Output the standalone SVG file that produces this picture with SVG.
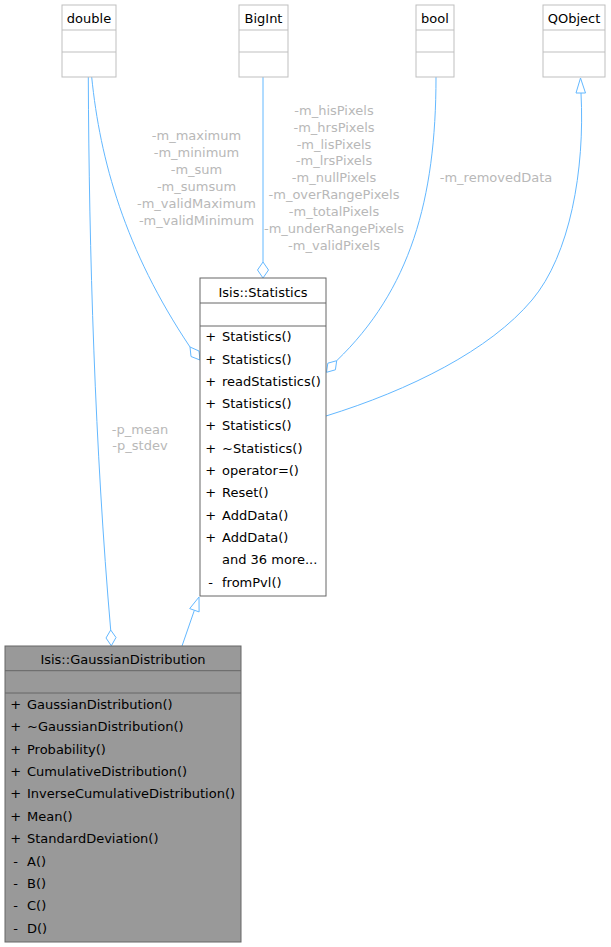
<svg xmlns="http://www.w3.org/2000/svg" width="611" height="947" viewBox="0 0 611 947">
<style>
text{font-family:"DejaVu Sans",sans-serif;font-size:13px;fill:#000}
.c{text-anchor:middle}
.lbl{fill:#b8b8b8;text-anchor:middle}
.ext rect,.ext line{stroke:#bfbfbf;fill:#fff;stroke-width:1}
.cls rect,.cls line{stroke:#666;stroke-width:1}
.edge{fill:none;stroke:#63b8ff;stroke-width:1}
.head{fill:#fff;stroke:#63b8ff;stroke-width:1}
</style>
<rect width="611" height="947" fill="#fff"/>
<g id="connectors">
  <path class="edge" d="M91.7,77 C100,160 125,250 190,347"/>
  <polygon class="head" points="190,347 199,351 200,360 191,356.5"/>
  <path class="edge" d="M88.3,77 C89,250 95,450 110.7,630"/>
  <polygon class="head" points="110.7,630 116,637.5 111.3,645.8 106,638"/>
  <path class="edge" d="M263,77 L263,262"/>
  <polygon class="head" points="263,262 268.5,270 263,278 257.5,270"/>
  <path class="edge" d="M436,77 C436,200 410,290 336.7,360.7"/>
  <polygon class="head" points="336.7,360.7 335.4,369.8 326.5,372.3 327.8,363.2"/>
  <path class="edge" d="M326,416 C410,390 490,350 532,300 C570,255 585,170 581,93"/>
  <polygon class="head" points="580.5,78 585.5,93 576,93"/>
  <path class="edge" d="M182,646 L194.4,610.2"/>
  <polygon class="head" points="199,597 199.1,611.9 189.7,608.6"/>
  <text class="lbl" x="196.5" y="140">-m_maximum</text>
  <text class="lbl" x="196.5" y="157">-m_minimum</text>
  <text class="lbl" x="196.5" y="174">-m_sum</text>
  <text class="lbl" x="196.5" y="191">-m_sumsum</text>
  <text class="lbl" x="196.5" y="208">-m_validMaximum</text>
  <text class="lbl" x="196.5" y="224.5">-m_validMinimum</text>
  <text class="lbl" x="334" y="114.5">-m_hisPixels</text>
  <text class="lbl" x="334" y="131.5">-m_hrsPixels</text>
  <text class="lbl" x="334" y="148.5">-m_lisPixels</text>
  <text class="lbl" x="334" y="165">-m_lrsPixels</text>
  <text class="lbl" x="334" y="182">-m_nullPixels</text>
  <text class="lbl" x="334" y="199">-m_overRangePixels</text>
  <text class="lbl" x="334" y="216">-m_totalPixels</text>
  <text class="lbl" x="334" y="233">-m_underRangePixels</text>
  <text class="lbl" x="334" y="250">-m_validPixels</text>
  <text class="lbl" x="496" y="182">-m_removedData</text>
  <text class="lbl" x="140" y="433.5">-p_mean</text>
  <text class="lbl" x="140" y="450">-p_stdev</text>
</g>
<g id="node-double" class="ext">
  <rect x="62" y="5" width="54" height="72"/>
  <line x1="62" y1="30" x2="116" y2="30"/>
  <line x1="62" y1="52" x2="116" y2="52"/>
  <text class="c" x="89" y="22.8">double</text>
</g>
<g id="node-bigint" class="ext">
  <rect x="239" y="5" width="49" height="72"/>
  <line x1="239" y1="30" x2="288" y2="30"/>
  <line x1="239" y1="52" x2="288" y2="52"/>
  <text class="c" x="263.5" y="22.8">BigInt</text>
</g>
<g id="node-bool" class="ext">
  <rect x="416" y="5" width="38" height="72"/>
  <line x1="416" y1="30" x2="454" y2="30"/>
  <line x1="416" y1="52" x2="454" y2="52"/>
  <text class="c" x="435" y="22.8">bool</text>
</g>
<g id="node-qobject" class="ext">
  <rect x="543" y="5" width="62" height="72"/>
  <line x1="543" y1="30" x2="605" y2="30"/>
  <line x1="543" y1="52" x2="605" y2="52"/>
  <text class="c" x="574" y="22.8">QObject</text>
</g>
<g id="node-statistics" class="cls">
  <rect x="200" y="278" width="126" height="318" fill="#fff"/>
  <line x1="200" y1="303" x2="326" y2="303"/>
  <line x1="200" y1="326" x2="326" y2="326"/>
  <text class="c" x="263" y="296.5">Isis::Statistics</text>
  <text class="c" x="210.7" y="341.2">+</text><text x="222" y="341.2">Statistics()</text>
  <text class="c" x="210.7" y="363.5">+</text><text x="222" y="363.5">Statistics()</text>
  <text class="c" x="210.7" y="385.8">+</text><text x="222" y="385.8">readStatistics()</text>
  <text class="c" x="210.7" y="408.1">+</text><text x="222" y="408.1">Statistics()</text>
  <text class="c" x="210.7" y="430.4">+</text><text x="222" y="430.4">Statistics()</text>
  <text class="c" x="210.7" y="452.7">+</text><text x="222" y="452.7">~Statistics()</text>
  <text class="c" x="210.7" y="475">+</text><text x="222" y="475">operator=()</text>
  <text class="c" x="210.7" y="497.3">+</text><text x="222" y="497.3">Reset()</text>
  <text class="c" x="210.7" y="519.6">+</text><text x="222" y="519.6">AddData()</text>
  <text class="c" x="210.7" y="541.9">+</text><text x="222" y="541.9">AddData()</text>
  <text x="222" y="564.2">and 36 more...</text>
  <text class="c" x="210.7" y="586.5">-</text><text x="222" y="586.5">fromPvl()</text>
</g>
<g id="node-gaussian" class="cls">
  <rect x="5" y="646" width="236" height="296" fill="#999"/>
  <line x1="5" y1="670.7" x2="241" y2="670.7"/>
  <line x1="5" y1="693" x2="241" y2="693"/>
  <text class="c" x="123" y="663.5">Isis::GaussianDistribution</text>
  <text class="c" x="15.7" y="708.8">+</text><text x="27" y="708.8">GaussianDistribution()</text>
  <text class="c" x="15.7" y="731.2">+</text><text x="27" y="731.2">~GaussianDistribution()</text>
  <text class="c" x="15.7" y="753.6">+</text><text x="27" y="753.6">Probability()</text>
  <text class="c" x="15.7" y="776">+</text><text x="27" y="776">CumulativeDistribution()</text>
  <text class="c" x="15.7" y="798.4">+</text><text x="27" y="798.4">InverseCumulativeDistribution()</text>
  <text class="c" x="15.7" y="820.8">+</text><text x="27" y="820.8">Mean()</text>
  <text class="c" x="15.7" y="843.2">+</text><text x="27" y="843.2">StandardDeviation()</text>
  <text class="c" x="15.7" y="865.6">-</text><text x="27" y="865.6">A()</text>
  <text class="c" x="15.7" y="888">-</text><text x="27" y="888">B()</text>
  <text class="c" x="15.7" y="910.4">-</text><text x="27" y="910.4">C()</text>
  <text class="c" x="15.7" y="932.8">-</text><text x="27" y="932.8">D()</text>
</g>
</svg>
